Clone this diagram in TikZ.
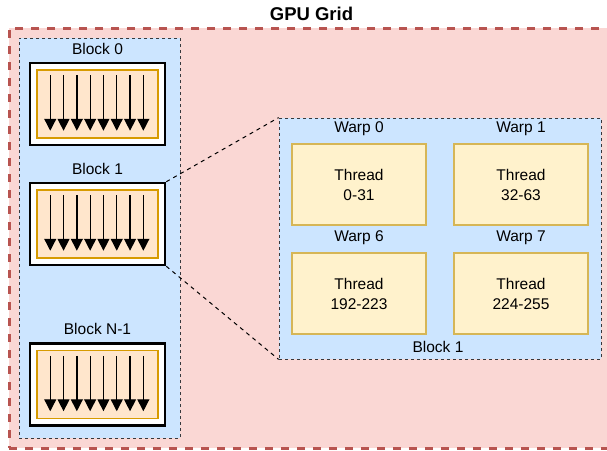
\documentclass[tikz,border=0pt]{standalone}
\usepackage{fontspec}
\setmainfont{Liberation Sans}
\usetikzlibrary{positioning,arrows.meta,calc}
\definecolor{gridfill}{HTML}{FAD7D4}
\definecolor{griddraw}{HTML}{B85450}
\definecolor{blkfill}{HTML}{CCE5FF}
\definecolor{panelline}{HTML}{36393D}
\definecolor{thrfill}{HTML}{FFE6CC}
\definecolor{thrdraw}{HTML}{D79B00}
\definecolor{warpfill}{HTML}{FFF2CC}
\definecolor{warpdraw}{HTML}{D6B656}

\begin{document}
\begin{tikzpicture}[x=1pt, y=-1pt, font=\fontsize{15.5}{20}\selectfont,
    panel/.style={draw=panelline, fill=blkfill, line width=0.8pt,
                  dash pattern=on 3pt off 3pt, inner sep=0pt},
    blockbox/.style={draw=black, fill=white, line width=2.5pt, inner sep=0pt,
                     minimum width=135pt, minimum height=82pt},
    lanes/.style={draw=thrdraw, fill=thrfill, line width=1.5pt, inner sep=0pt,
                  minimum width=121pt, minimum height=68pt},
    warpbox/.style={draw=warpdraw, fill=warpfill, line width=2pt, align=center,
                    minimum width=134pt, minimum height=81pt},
    tag/.style={inner sep=3pt},
    lane/.style={-{Triangle[width=12pt,length=12pt]}, line width=1.3pt}]
    \useasboundingbox (0,0) rectangle (607,450);

    % the grid and the column of blocks
    \node[draw=griddraw, fill=gridfill, line width=3pt, dash pattern=on 8pt off 8pt,
          inner sep=0pt, minimum width=605pt, minimum height=420pt] (grid) at (311.5,238) {};
    \node[font=\fontsize{18.5}{22}\selectfont\bfseries, above=2pt of grid] (gridlbl) {GPU Grid};
    \node[panel, minimum width=161pt, minimum height=400pt] (blocks) at (99.5,238) {};

    \foreach \name/\y/\txt in {blk0/104/Block 0, blk1/224/Block 1, blkN/384.5/Block N-1} {
      \node[blockbox] (\name) at (97.5,\y) {};
      \node[lanes] (\name-t) at (\name.center) {};
      \node[tag, above=4pt of \name] (\name-lbl) {\txt};
      \foreach \i in {0,...,7}
        \draw[lane] ($(\name-t.north west)+(14+13.3*\i,6)$) -- ($(\name-t.south west)+(14+13.3*\i,-8)$);
    }

    % block 1 opened up into its warps
    \node[panel, minimum width=322pt, minimum height=241pt] (detail) at (440,238.5) {};
    \node[warpbox] (w0) at (359,184.5) {Thread\\0-31};
    \node[warpbox, right=26pt of w0] (w1) {Thread\\32-63};
    \node[warpbox, below=26pt of w0] (w6) {Thread\\192-223};
    \node[warpbox, below=26pt of w1] (w7) {Thread\\224-255};
    \node[tag, above=4pt of w0] (w0-lbl) {Warp 0};
    \node[tag, above=4pt of w1] (w1-lbl) {Warp 1};
    \node[tag, above=4pt of w6] (w6-lbl) {Warp 6};
    \node[tag, above=4pt of w7] (w7-lbl) {Warp 7};
    \node[tag, anchor=south] (detail-lbl) at ($(detail.south)+(-2,-3.3)$) {Block 1};

    \draw[line width=1pt, dash pattern=on 4pt off 4pt] (blk1.north east) -- (detail.north west);
    \draw[line width=1pt, dash pattern=on 4pt off 4pt] (blk1.south east) -- (detail.south west);
\end{tikzpicture}
\end{document}
